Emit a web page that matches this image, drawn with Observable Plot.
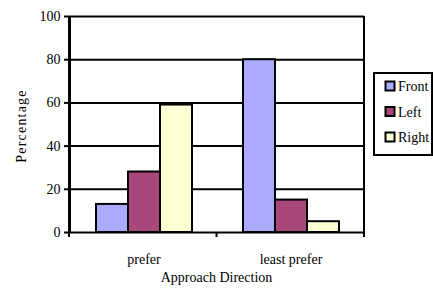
<!DOCTYPE html>
<html>
<head>
<meta charset="utf-8">
<script src="https://cdn.jsdelivr.net/npm/d3@7"></script>
<script src="https://cdn.jsdelivr.net/npm/@observablehq/plot@0.6"></script>
<style>
  html, body { margin: 0; padding: 0; background: white; }
  #chart { position: relative; width: 433px; height: 288px; overflow: hidden; }
  svg g[aria-label^="y-axis"] line, svg g[aria-label^="y-axis"] path { stroke-width: 2px; }
</style>
</head>
<body>
<div id="chart"></div>
<script>
// ---- data ----
const categories = ["prefer", "least prefer"];
const series = ["Front", "Left", "Right"];
const frontValues = [13, 80];
const leftValues = [28, 15];
const rightValues = [59, 5];
const yTicks = [0, 20, 40, 60, 80, 100];
const colors = ["#aaaaff", "#a8487a", "#ffffd6"];
const xTitle = "Approach Direction";
const yTitle = "Percentage";

const valuesBySeries = {Front: frontValues, Left: leftValues, Right: rightValues};
const rows = [];
categories.forEach((cat, i) => {
  series.forEach(s => rows.push({cat, series: s, value: valuesBySeries[s][i]}));
});

const W = 433, H = 288;
const mL = 69, mR = 69, mT = 16, mB = 56;
const font = "'Liberation Serif', 'Times New Roman', Times, serif";

const plot = Plot.plot({
  width: W, height: H,
  marginLeft: mL, marginRight: mR, marginTop: mT, marginBottom: mB,
  style: {fontFamily: font, fontSize: "14px", background: "white", color: "black", overflow: "visible"},
  facet: {data: rows, x: "cat", marginBottom: mB},
  fx: {domain: categories, padding: 0, label: null, tickSize: 0, tickPadding: 22},
  x: {domain: series, paddingInner: 0, paddingOuter: 0.73, axis: null},
  y: {domain: [0, 100], ticks: yTicks, tickSize: 6, tickPadding: 4, line: true, label: null},
  color: {domain: series, range: colors},
  marks: [
    Plot.ruleY(yTicks, {stroke: "black", strokeWidth: 2}),
    Plot.barY(rows, {x: "series", y: "value", fill: "series", stroke: "black", strokeWidth: 2})
  ]
});

document.getElementById("chart").appendChild(plot);

// ---- decorations (frame pieces, titles, legend) ----
(function () {
  const svg = d3.select(plot);
  svg.selectAll("text").filter(function () { return (this.textContent || "").includes("\u26A0"); }).remove();
  const pLeft = mL, pRight = W - mR, pTop = mT, pBottom = H - mB;
  const g = svg.append("g");
  g.append("line").attr("x1", pRight).attr("x2", pRight).attr("y1", pTop).attr("y2", pBottom + 4)
    .attr("stroke", "black").attr("stroke-width", 2);
  const step = (pRight - pLeft) / categories.length;
  for (let i = 0; i <= categories.length; i++) {
    const x = pLeft + i * step;
    g.append("line").attr("x1", x).attr("x2", x).attr("y1", pBottom).attr("y2", pBottom + 5)
      .attr("stroke", "black").attr("stroke-width", 2);
  }
  g.append("line").attr("x1", pLeft).attr("x2", pLeft).attr("y1", pTop).attr("y2", pBottom)
    .attr("stroke", "black").attr("stroke-width", 2);

  g.append("text").attr("x", (pLeft + pRight) / 2).attr("y", 282)
    .attr("text-anchor", "middle").attr("font-family", font).attr("font-size", 14)
    .text(xTitle);
  g.append("text").attr("transform", `translate(26,${(pTop + pBottom) / 2 + 2}) rotate(-90)`)
    .attr("text-anchor", "middle").attr("font-family", font).attr("font-size", 14)
    .attr("letter-spacing", 1.2)
    .text(yTitle);

  const color = plot.scale("color");
  const lg = g.append("g");
  lg.append("rect").attr("x", 374).attr("y", 73).attr("width", 58).attr("height", 82)
    .attr("fill", "white").attr("stroke", "black").attr("stroke-width", 2);
  series.forEach((s, i) => {
    const cy = 86 + i * 25.5;
    lg.append("rect").attr("x", 385.5).attr("y", cy - 4.5).attr("width", 9).attr("height", 9)
      .attr("fill", color.apply(s)).attr("stroke", "black").attr("stroke-width", 2);
    lg.append("text").attr("x", 398).attr("y", cy + 5).attr("text-anchor", "start")
      .attr("font-family", font).attr("font-size", 14).text(s);
  });
})();
</script>
</body>
</html>
